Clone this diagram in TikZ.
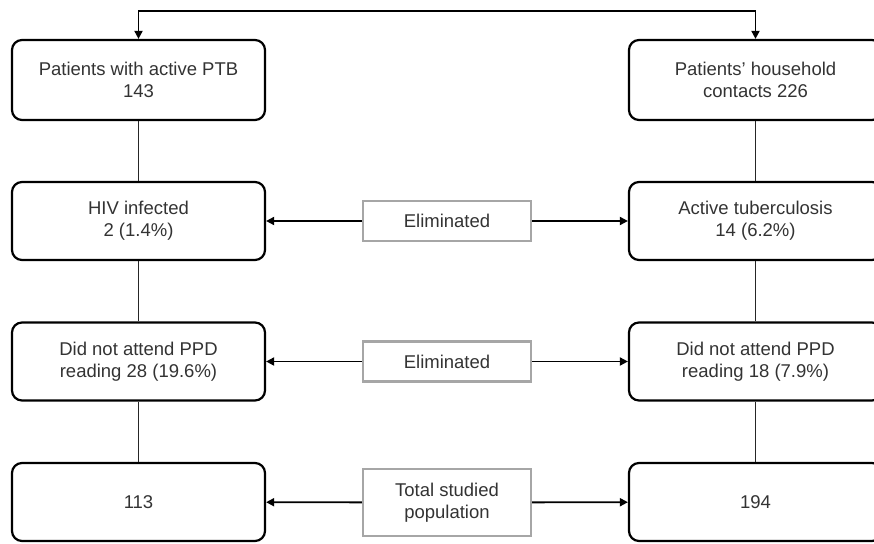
\documentclass[tikz,border=0pt]{standalone}
\usepackage{fontspec}
\setmainfont{Liberation Sans}
\usetikzlibrary{arrows.meta}
\definecolor{txt}{HTML}{333333}
\definecolor{elim}{HTML}{A6A6A6}
\begin{document}
\begin{tikzpicture}[x=1pt,y=-1pt,
  font=\fontsize{18.5}{22}\selectfont,
  mainbox/.style={draw=black, line width=2.2pt, rounded corners=10pt, minimum width=253pt, minimum height=78pt, align=center, text=txt, inner sep=0pt},
  elimbox/.style={draw=elim, line width=2.4pt, minimum width=168pt, align=center, text=txt, inner sep=0pt},
  vline/.style={draw=black!85, line width=0.9pt},
  arr/.style={draw=black, line width=1.8pt, -{Triangle[length=8pt,width=8pt]}},
  dblarr/.style={draw=black, line width=1.8pt, {Triangle[length=8pt,width=8pt]}-{Triangle[length=8pt,width=8pt]}}]
\useasboundingbox (0,0) rectangle (874,543);
\node[mainbox, minimum height=80pt] (ptb) at (138.5,80) {Patients with active PTB\\143};
\node[mainbox, minimum height=80pt] (hh) at (755.5,80) {Patients’ household\\contacts 226};
\node[mainbox] (hiv) at (138.5,221) {HIV infected\\2 (1.4\%)};
\node[mainbox] (atb) at (755.5,221) {Active tuberculosis\\14 (6.2\%)};
\node[mainbox] (ppdl) at (138.5,361.5) {Did not attend PPD\\reading 28 (19.6\%)};
\node[mainbox] (ppdr) at (755.5,361.5) {Did not attend PPD\\reading 18 (7.9\%)};
\node[mainbox] (totl) at (138.5,502) {113};
\node[mainbox] (totr) at (755.5,502) {194};
\node[elimbox, minimum height=40pt] (e1) at (447,221) {Eliminated};
\node[elimbox, minimum height=40pt] (e2) at (447,361.5) {Eliminated};
\node[elimbox, minimum height=67pt] (e3) at (447,502.5) {Total studied\\population};
\draw[dblarr] (ptb.north) -- ++(0,-28) coordinate (tl) -| (hh.north);
\draw[vline] (ptb) -- (hiv);
\draw[vline] (hiv) -- (ppdl);
\draw[vline] (ppdl) -- (totl);
\draw[vline] (hh) -- (atb);
\draw[vline] (atb) -- (ppdr);
\draw[vline] (ppdr) -- (totr);
\draw[arr] (e1) -- (hiv);
\draw[arr] (e1) -- (atb);
\draw[arr] (e2) -- (ppdl);
\draw[arr] (e2) -- (ppdr);
\draw[arr] (e3) -- (totl);
\draw[arr] (e3) -- (totr);
\end{tikzpicture}
\end{document}
